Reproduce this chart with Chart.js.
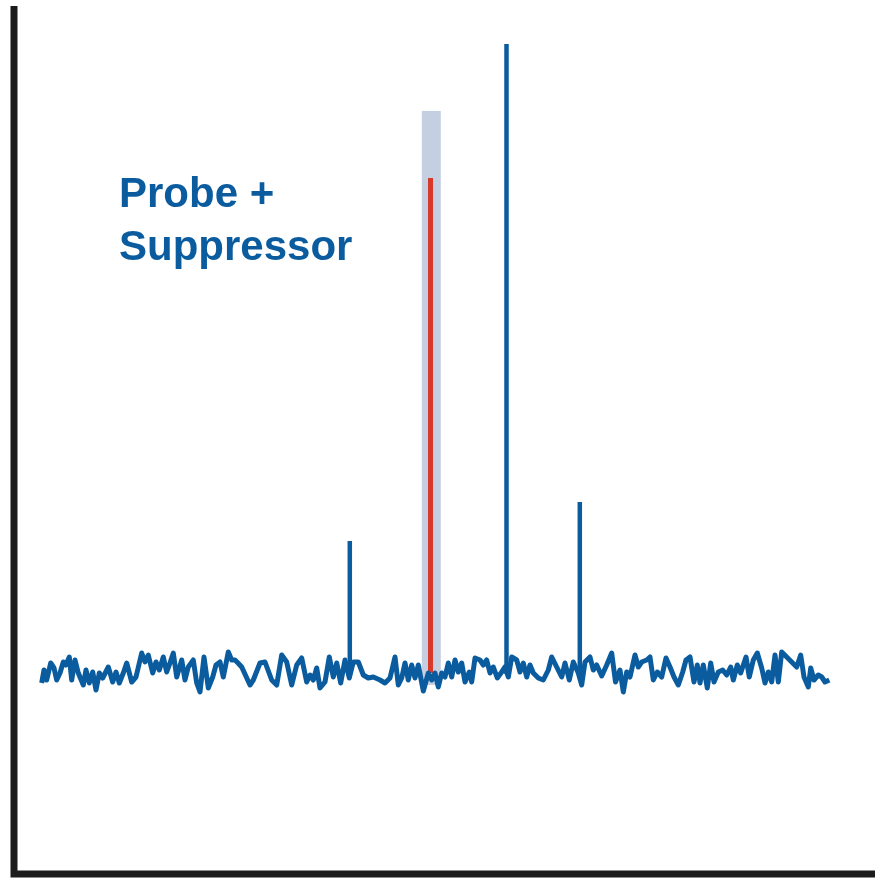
<!DOCTYPE html>
<html>
<head>
<meta charset="utf-8">
<script src="https://cdn.jsdelivr.net/npm/chart.js@4/dist/chart.umd.min.js"></script>
<style>
  html, body { margin: 0; padding: 0; background: #ffffff; }
  #wrap { width: 875px; height: 878px; }
</style>
</head>
<body>
<div id="wrap"><canvas id="c" width="875" height="878"></canvas></div>
<script>
// ---- data (arbitrary units: frequency offset on x, intensity on y) ----
const noiseX = [
  27.7,30,32.7,36.7,40,42.7,46,49.3,52,55.3,
  57.7,61,64.3,69.3,72,75.3,78.7,82,85.3,88.7,
  94.3,98.7,102,105.3,109.3,112.7,117.7,122,127.7,131,
  134.3,138.7,142,145.3,149.3,152.7,156,159.3,162.7,167.7,
  171,174.3,179.3,182.7,186,190,194.3,198.7,202,206,
  209.3,214.3,217.7,221,224,227.7,236,239.3,246,251,
  257.7,262.7,267.7,272.7,277.7,282.7,287.7,292.7,296,299.3,
  302.7,306,311,315.3,319.3,322.7,326.7,331,335.3,339.3,
  344.3,349.3,354.3,359.3,366,371,376,381,384.3,387.7,
  391,394.3,397.7,401,404.3,409.3,414.3,417.7,421,424.3,
  427.7,431,434.3,437.7,441,444.3,447.7,451,455.3,457.7,
  461,466,469.3,472.7,476,479.3,483.3,487.7,491,494.3,
  497.7,502.7,506,509.3,512.7,516,519.3,524.3,529.3,534.3,
  537.7,542.7,547.7,551,555.3,559.3,564.3,567.7,571,576,
  579.3,582.7,587.7,592.7,597.7,601.5,606,609.3,612.7,616,
  621,624.3,627.7,632.7,636,639.3,643.3,647.7,652,656,
  660,664.3,668.7,672,676,680,683.3,686,689.3,693.3,
  696.7,700,704.3,708.7,712.7,716.7,719.3,723.3,726.7,732,
  735.3,739.3,743.3,747.7,751,754.3,757.7,761,764.3,767.7,
  772.7,777.7,782.7,786.7,790,794.3,796.7,800,804.3,807.7,
  811,815.3
];
const noiseY = [
  191,204,194,211,206,194,201,212,209,217,
  194,214,201,189,204,191,202,184,201,196,
  207,192,202,191,201,211,192,197,221,212,
  219,201,212,204,217,202,211,221,197,214,
  194,207,214,191,182,217,186,197,209,212,
  197,222,214,214,211,207,189,194,211,212,
  194,189,219,212,189,209,216,192,199,194,
  206,186,192,217,197,211,191,214,196,212,
  212,199,196,197,194,191,196,217,189,196,
  211,194,209,196,209,183,201,194,201,187,
  201,197,211,197,214,202,211,192,202,192,
  216,214,209,214,201,207,196,202,207,197,
  217,214,202,211,197,209,201,196,194,204,
  217,207,197,211,194,212,201,189,212,217,
  204,209,198,209,221,192,204,182,202,197,
  219,207,212,214,217,194,202,197,216,207,
  197,189,202,214,217,192,209,191,209,186,
  211,192,202,204,199,207,194,209,201,217,
  197,214,221,206,191,202,192,219,192,222,
  217,212,207,219,197,187,206,194,199,197,
  192,194
];
// Sharp peaks rising from the noise floor
const peakX    = [335.8, 492.5, 565.8];
const peakBase = [200, 200, 200];
const peakTop  = [333, 830, 372];
// Probe (red) and its highlighted window (grey band)
const probeX = 416.5, probeBase = 201, probeTop = 696;
const bandX = 417.3, bandBase = 189, bandTop = 763;
const labelLines = ["Probe +", "Suppressor"];

// ---- styles ----
const BLUE = "#0b5c9f";
const RED = "#d8392b";
const BAND = "#c4cfe1";
const AXIS = "#1c1c1c";

const noiseData = noiseX.map((x, i) => ({ x: x, y: noiseY[i] }));
const datasets = [
  { label: "signal", data: noiseData, borderColor: BLUE, borderWidth: 5,
    pointRadius: 0, tension: 0, borderJoinStyle: "round", order: 0 }
];
peakX.forEach((x, i) => {
  datasets.push({ label: "peak" + i, data: [{ x: x, y: peakBase[i] }, { x: x, y: peakTop[i] }],
    borderColor: BLUE, borderWidth: 4.5, borderCapStyle: "butt", pointRadius: 0, order: 1 });
});
datasets.push({ label: "probe", data: [{ x: probeX, y: probeBase }, { x: probeX, y: probeTop }],
  borderColor: RED, borderWidth: 5, borderCapStyle: "butt", pointRadius: 0, order: 2 });
datasets.push({ label: "band", data: [{ x: bandX, y: bandBase }, { x: bandX, y: bandTop }],
  borderColor: BAND, borderWidth: 19, borderCapStyle: "butt", pointRadius: 0, order: 3 });

const axesPlugin = {
  id: "axes",
  beforeDatasetsDraw(chart) {
    const { ctx, chartArea: a } = chart;
    ctx.save();
    ctx.strokeStyle = AXIS;
    ctx.lineWidth = 7;
    ctx.lineCap = "butt";
    ctx.beginPath();
    ctx.moveTo(a.left, a.top);
    ctx.lineTo(a.left, a.bottom);
    ctx.lineTo(a.right, a.bottom);
    ctx.stroke();
    ctx.restore();
  }
};
const labelPlugin = {
  id: "label",
  afterDraw(chart) {
    const { ctx } = chart;
    ctx.save();
    ctx.fillStyle = BLUE;
    ctx.font = 'bold 42px "Liberation Sans", Arial, sans-serif';
    ctx.textBaseline = "alphabetic";
    ctx.fillText(labelLines[0], 119, 207);
    ctx.fillText(labelLines[1], 119, 260);
    ctx.restore();
  }
};

new Chart(document.getElementById("c"), {
  type: "line",
  data: { datasets: datasets },
  options: {
    responsive: false,
    animation: false,
    layout: { padding: { left: 14, right: 0, top: 6, bottom: 4 } },
    scales: {
      x: { type: "linear", min: 0, max: 861, display: false },
      y: { type: "linear", min: 0, max: 868, display: false }
    },
    plugins: { legend: { display: false }, tooltip: { enabled: false } }
  },
  plugins: [axesPlugin, labelPlugin]
});
</script>
</body>
</html>
